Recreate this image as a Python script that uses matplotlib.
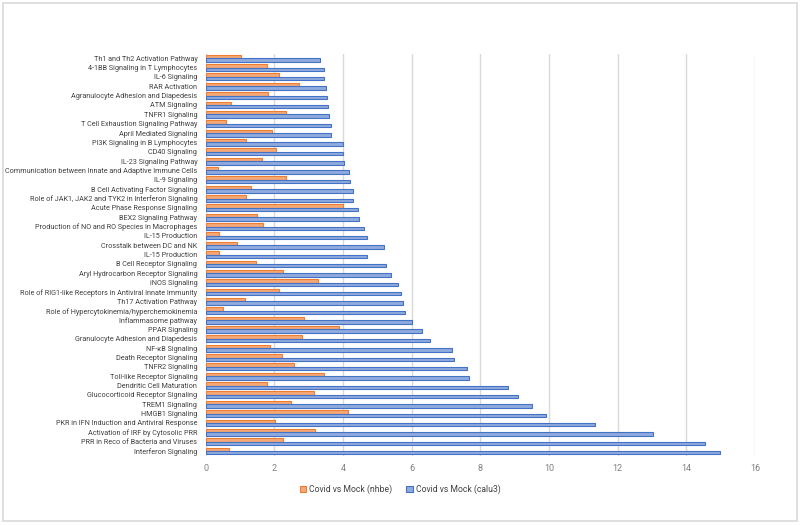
import numpy as np
import matplotlib
matplotlib.use("Agg")
import matplotlib.pyplot as plt
from matplotlib.patches import Rectangle

# pathways, top to bottom as they appear
pathways = [
    "Th1 and Th2 Activation Pathway",
    "4-1BB Signaling in T Lymphocytes",
    "IL-6 Signaling",
    "RAR Activation",
    "Agranulocyte Adhesion and Diapedesis",
    "ATM Signaling",
    "TNFR1 Signaling",
    "T Cell Exhaustion Signaling Pathway",
    "April Mediated Signaling",
    "PI3K Signaling in B Lymphocytes",
    "CD40 Signaling",
    "IL-23 Signaling Pathway",
    "Communication between Innate and Adaptive Immune Cells",
    "IL-9 Signaling",
    "B Cell Activating Factor Signaling",
    "Role of JAK1, JAK2 and TYK2 in Interferon Signaling",
    "Acute Phase Response Signaling",
    "BEX2 Signaling Pathway",
    "Production of NO and RO Species in Macrophages",
    "IL-15 Production",
    "Crosstalk between DC and NK",
    "IL-15 Production",
    "B Cell Receptor Signaling",
    "Aryl Hydrocarbon Receptor Signaling",
    "iNOS Signaling",
    "Role of RIG1-like Receptors in Antiviral Innate Immunity",
    "Th17 Activation Pathway",
    "Role of Hypercytokinemia/hyperchemokinemia",
    "Inflammasome pathway",
    "PPAR Signaling",
    "Granulocyte Adhesion and Diapedesis",
    "NF-κB Signaling",
    "Death Receptor Signaling",
    "TNFR2 Signaling",
    "Toll-like Receptor Signaling",
    "Dendritic Cell Maturation",
    "Glucocorticoid Receptor Signaling",
    "TREM1 Signaling",
    "HMGB1 Signaling",
    "PKR in IFN Induction and Antiviral Response",
    "Activation of IRF by Cytosolic PRR",
    "PRR in Reco of Bacteria and Viruses",
    "Interferon Signaling",
]

nhbe = [1.02, 1.78, 2.13, 2.71, 1.82, 0.73, 2.34, 0.58, 1.92, 1.17,
        2.04, 1.64, 0.35, 2.33, 1.31, 1.17, 3.99, 1.49, 1.66, 0.40,
        0.91, 0.40, 1.46, 2.25, 3.27, 2.15, 1.14, 0.50, 2.87, 3.88,
        2.80, 1.86, 2.22, 2.57, 3.45, 1.78, 3.15, 2.48, 4.15, 2.03,
        3.17, 2.25, 0.68]

calu3 = [3.32, 3.45, 3.46, 3.50, 3.53, 3.55, 3.58, 3.65, 3.65, 3.99,
         4.00, 4.03, 4.18, 4.20, 4.28, 4.29, 4.45, 4.47, 4.61, 4.71,
         5.20, 4.71, 5.24, 5.40, 5.61, 5.70, 5.76, 5.81, 6.02, 6.30,
         6.54, 7.17, 7.22, 7.61, 7.68, 8.80, 9.10, 9.50, 9.91, 11.34,
         13.03, 14.54, 14.97]

x_ticks = [0, 2, 4, 6, 8, 10, 12, 14, 16]

plt.rcParams['font.family'] = ['Roboto', 'DejaVu Sans']

fig = plt.figure(figsize=(8, 5.25), dpi=100)
ax = fig.add_axes([0.2571, 0.132, 0.6866, 0.766])

pos = np.arange(len(pathways))
h = 0.37
ax.barh(pos - h / 2, nhbe, height=h, color="#F4A877", edgecolor="#ED7D31",
        linewidth=0.8, label="Covid vs Mock (nhbe)", zorder=3)
ax.barh(pos + h / 2, calu3, height=h, color="#8FAADC", edgecolor="#4472C4",
        linewidth=0.8, label="Covid vs Mock (calu3)", zorder=3)

ax.set_ylim(len(pathways) - 0.5, -0.5)
ax.set_xlim(0, 16)
ax.set_xticks(x_ticks)
ax.set_yticks(pos)
ax.set_yticklabels(pathways, fontsize=5.2, color="#404040")
ax.tick_params(axis="x", labelsize=6.5, labelcolor="#7F7F7F", length=0, pad=6)
ax.tick_params(axis="y", length=0, pad=6)
ax.grid(axis="x", color="#D9D9D9", linewidth=1, zorder=0)
for s in ax.spines.values():
    s.set_visible(False)

leg = fig.legend(loc="center", bbox_to_anchor=(0.5, 0.068), ncol=2, frameon=False,
                 fontsize=6.2, handlelength=0.75, handleheight=0.75,
                 columnspacing=1.6, handletextpad=0.35)
for t in leg.get_texts():
    t.set_color("#404040")

# chart area border
fig.add_artist(Rectangle((0.004, 0.008), 0.992, 0.986, transform=fig.transFigure,
                         fill=False, edgecolor="#D9D9D9", linewidth=1.2))

fig.savefig("out.png", dpi=100)
